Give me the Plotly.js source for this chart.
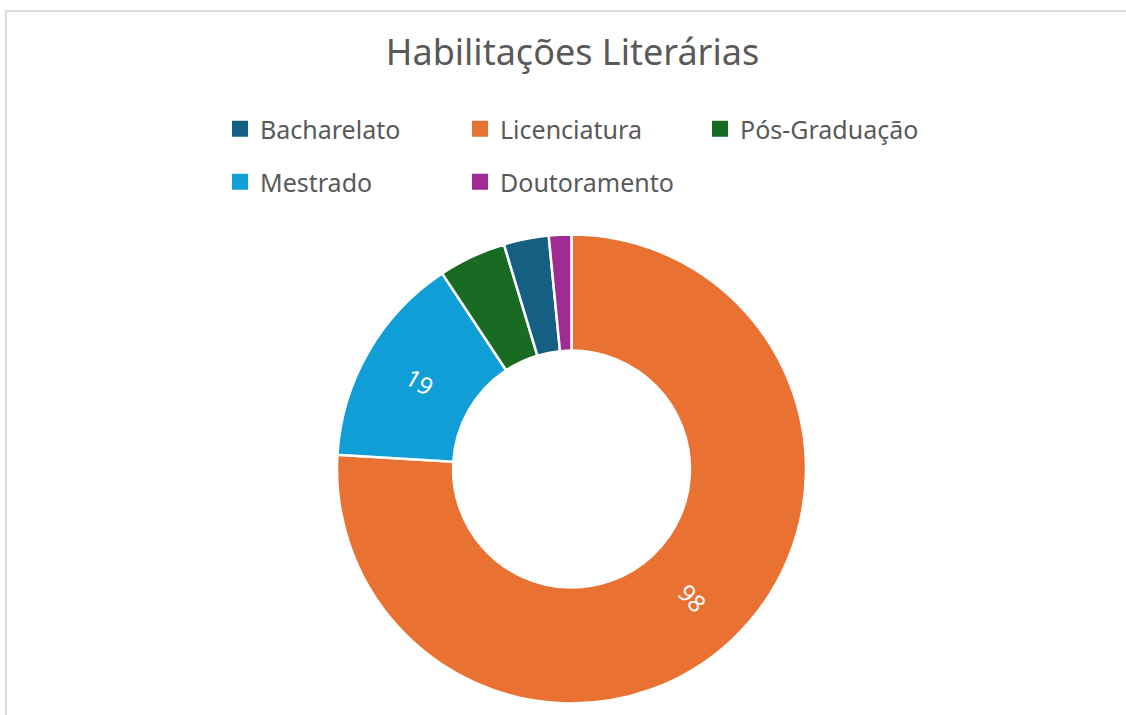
<!DOCTYPE html>
<html><head><meta charset="utf-8">
<script src="https://cdn.plot.ly/plotly-3.0.1.min.js"></script>
<style>
html,body{margin:0;padding:0;overflow:hidden;background:#fff;width:1126px;height:715px}
#frame{position:absolute;left:5px;top:10px;width:1300px;height:900px;border-top:2px solid #dcdcdc;border-left:2px solid #dcdcdc}
#chart{position:absolute;left:0;top:0;width:1126px;height:715px}
</style></head><body>
<div id="frame"></div><div id="chart"></div>
<script>
const categories = ['Bacharelato', 'Licenciatura', 'Pós-Graduação', 'Mestrado', 'Doutoramento'];
const values = [4, 98, 6, 19, 2];
const colors = ['#156082', '#E97132', '#196B24', '#0F9ED5', '#A02B93'];
const showValue = [false, true, false, true, false];
const sliceOrder = [1, 3, 2, 0, 4];
const legendOf = ['legend', 'legend', 'legend', 'legend2', 'legend2'];

const W = 1126, H = 715;
const FONT = '"Noto Sans", "Open Sans", sans-serif';
const cx = 571.5, cy = 469, R = 234.5, HOLE = 0.505;

// slices that cross the horizontal axis get their label placed by annotation
// (plotly's 'radial' mode would move them to the axis crossing)
const total = values.reduce((a, b) => a + b, 0);
const labelAnnotations = [];
const pieText = [];
let cum = 0;
sliceOrder.forEach(i => {
  const a0 = cum / total * 360, a1 = (cum + values[i]) / total * 360;
  cum += values[i];
  const crosses = (a0 < 90 && a1 > 90) || (a0 < 270 && a1 > 270);
  if (showValue[i] && crosses) {
    const mid = (a0 + a1) / 2, rad = mid * Math.PI / 180;
    const rm = R * (1 + HOLE) / 2;
    let rot = mid - 90;
    while (rot > 90) rot -= 180;
    while (rot <= -90) rot += 180;
    labelAnnotations.push({
      xref: 'paper', yref: 'paper',
      x: (cx + rm * Math.sin(rad)) / W, y: (H - (cy - rm * Math.cos(rad))) / H,
      xanchor: 'center', yanchor: 'middle', showarrow: false,
      text: String(values[i]), textangle: rot,
      font: {color: '#ffffff', size: 24, family: FONT}
    });
    pieText.push('');
  } else {
    pieText.push(showValue[i] ? '%{value}' : '');
  }
});

const pie = {
  type: 'pie',
  labels: sliceOrder.map(i => categories[i]),
  values: sliceOrder.map(i => values[i]),
  marker: {colors: sliceOrder.map(i => colors[i]), line: {color: '#ffffff', width: 2.5}},
  hole: HOLE,
  sort: false,
  direction: 'clockwise',
  rotation: 0,
  textposition: 'inside',
  texttemplate: pieText,
  insidetextorientation: 'radial',
  textfont: {color: '#ffffff', size: 24, family: FONT},
  showlegend: false,
  hoverinfo: 'label+value',
  domain: {x: [(cx - R) / W, (cx + R) / W], y: [(H - cy - R) / H, (H - cy + R) / H]}
};

const legendTraces = categories.map((c, i) => ({
  type: 'scatter', mode: 'markers', x: [null], y: [null], name: c,
  marker: {symbol: 'square', size: 16, color: colors[i], line: {width: 0}},
  legend: legendOf[i], showlegend: true, hoverinfo: 'skip'
}));

const legendBase = {
  orientation: 'h', xanchor: 'left', yanchor: 'middle',
  font: {family: FONT, size: 25, color: '#595959'},
  entrywidth: 195, entrywidthmode: 'pixels',
  bgcolor: 'rgba(0,0,0,0)', borderwidth: 0, itemclick: false
};

const layout = {
  width: W, height: H,
  margin: {l: 0, r: 0, t: 0, b: 0},
  paper_bgcolor: 'rgba(0,0,0,0)', plot_bgcolor: 'rgba(0,0,0,0)',
  title: {text: 'Habilitações Literárias', x: 572.5 / W, xanchor: 'center', xref: 'paper',
          y: (H - 52) / H, yref: 'paper', yanchor: 'middle',
          font: {family: FONT, size: 36, color: '#595959'}},
  xaxis: {visible: false}, yaxis: {visible: false},
  legend: Object.assign({}, legendBase, {x: 220 / W, y: (H - 129) / H}),
  legend2: Object.assign({}, legendBase, {x: 220 / W, y: (H - 182) / H}),
  annotations: labelAnnotations,
  showlegend: true
};

Plotly.newPlot('chart', [pie].concat(legendTraces), layout, {displayModeBar: false, staticPlot: true});
</script></body></html>
